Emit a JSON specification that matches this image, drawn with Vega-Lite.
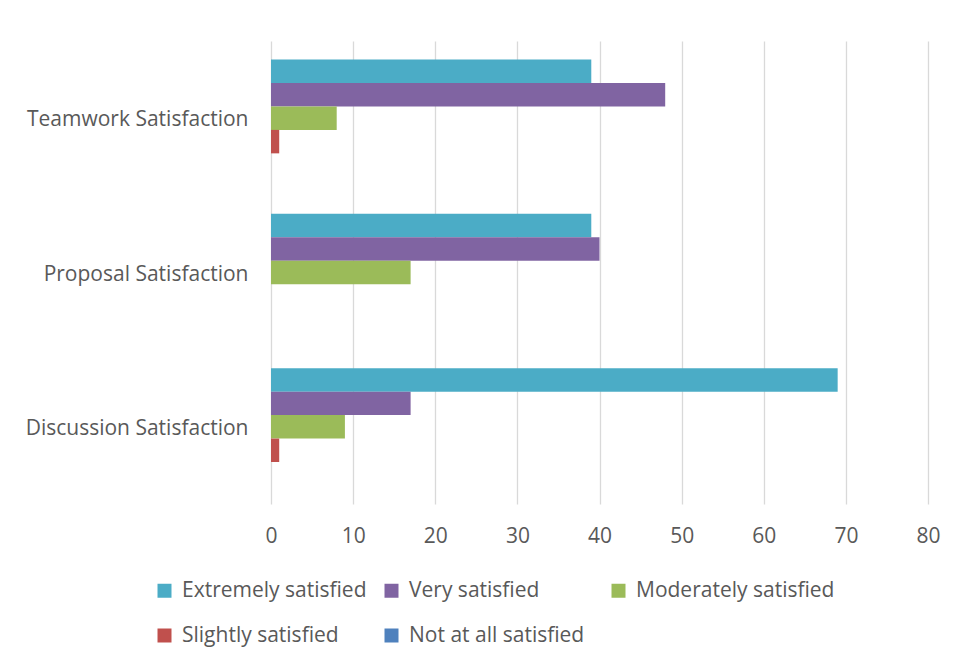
{
  "$schema": "https://vega.github.io/schema/vega-lite/v6.json",
  "width": 657,
  "height": 463,
  "autosize": {"type": "none"},
  "padding": {"left": 271, "top": 41, "right": 32, "bottom": 157},
  "background": "white",
  "data": {
    "values": [
      {"category": "Teamwork Satisfaction", "level": "Extremely satisfied", "count": 39},
      {"category": "Teamwork Satisfaction", "level": "Very satisfied", "count": 48},
      {"category": "Teamwork Satisfaction", "level": "Moderately satisfied", "count": 8},
      {"category": "Teamwork Satisfaction", "level": "Slightly satisfied", "count": 1},
      {"category": "Teamwork Satisfaction", "level": "Not at all satisfied", "count": 0},
      {"category": "Proposal Satisfaction", "level": "Extremely satisfied", "count": 39},
      {"category": "Proposal Satisfaction", "level": "Very satisfied", "count": 40},
      {"category": "Proposal Satisfaction", "level": "Moderately satisfied", "count": 17},
      {"category": "Proposal Satisfaction", "level": "Slightly satisfied", "count": 0},
      {"category": "Proposal Satisfaction", "level": "Not at all satisfied", "count": 0},
      {"category": "Discussion Satisfaction", "level": "Extremely satisfied", "count": 69},
      {"category": "Discussion Satisfaction", "level": "Very satisfied", "count": 17},
      {"category": "Discussion Satisfaction", "level": "Moderately satisfied", "count": 9},
      {"category": "Discussion Satisfaction", "level": "Slightly satisfied", "count": 1},
      {"category": "Discussion Satisfaction", "level": "Not at all satisfied", "count": 0}
    ]
  },
  "mark": {"type": "bar"},
  "encoding": {
    "y": {
      "field": "category",
      "type": "nominal",
      "sort": ["Teamwork Satisfaction", "Proposal Satisfaction", "Discussion Satisfaction"],
      "scale": {"paddingInner": 0.24, "paddingOuter": 0.12},
      "axis": {
        "title": null,
        "ticks": false,
        "domain": false,
        "labelFont": "Open Sans",
        "labelFontSize": 21,
        "labelColor": "#595959",
        "labelPadding": 23,
        "labelOffset": 2,
        "labelLimit": 400
      }
    },
    "yOffset": {
      "field": "level",
      "type": "nominal",
      "sort": ["Extremely satisfied", "Very satisfied", "Moderately satisfied", "Slightly satisfied", "Not at all satisfied"],
      "scale": {"paddingInner": 0, "paddingOuter": 0}
    },
    "x": {
      "field": "count",
      "type": "quantitative",
      "scale": {"domain": [0, 80], "nice": false},
      "axis": {
        "title": null,
        "values": [0, 10, 20, 30, 40, 50, 60, 70, 80],
        "ticks": false,
        "domain": false,
        "grid": true,
        "gridColor": "#d9d9d9",
        "gridWidth": 1.3,
        "labelFlush": false,
        "labelFont": "Open Sans",
        "labelFontSize": 21,
        "labelColor": "#595959",
        "labelPadding": 21
      }
    },
    "color": {
      "field": "level",
      "type": "nominal",
      "sort": ["Extremely satisfied", "Very satisfied", "Moderately satisfied", "Slightly satisfied", "Not at all satisfied"],
      "scale": {
        "domain": ["Extremely satisfied", "Very satisfied", "Moderately satisfied", "Slightly satisfied", "Not at all satisfied"],
        "range": ["#4BACC6", "#8064A2", "#9BBB59", "#C0504D", "#4F81BD"]
      },
      "legend": {
        "title": null,
        "orient": "none",
        "legendX": -117,
        "legendY": 539,
        "direction": "horizontal",
        "columns": 3,
        "gridAlign": "all",
        "columnPadding": 0,
        "rowPadding": 23,
        "symbolType": "square",
        "symbolSize": 196,
        "symbolStrokeWidth": 0,
        "symbolOffset": 0,
        "labelOffset": 7,
        "labelLimit": 400,
        "labelFont": "Open Sans",
        "labelFontSize": 21,
        "labelColor": "#595959"
      }
    }
  },
  "config": {
    "view": {"stroke": null}
  }
}
